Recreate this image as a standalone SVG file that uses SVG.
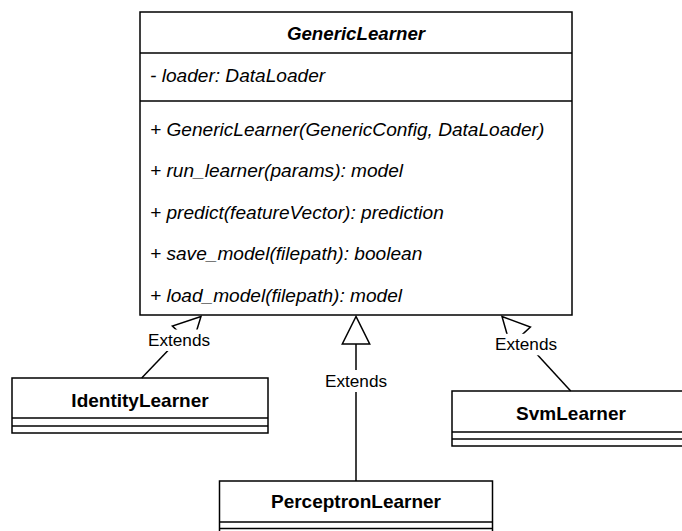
<svg xmlns="http://www.w3.org/2000/svg" width="682" height="531" viewBox="0 0 682 531">
  <style>
    .box { fill: #ffffff; stroke: #000000; stroke-width: 1.5; }
    .sep { stroke: #000000; stroke-width: 1.5; fill: none; }
    .title { font-family: "Liberation Sans", Arial, Helvetica, sans-serif; font-size: 19px; font-weight: bold; fill: #000000; text-anchor: middle; }
    .abstract { font-style: italic; font-size: 18.7px; }
    .member { font-family: "Liberation Sans", Arial, Helvetica, sans-serif; font-size: 19.1px; font-style: italic; fill: #000000; }
    .edge { stroke: #000000; stroke-width: 1.5; fill: none; }
    .head { stroke: #000000; stroke-width: 1.5; fill: #ffffff; stroke-linejoin: miter; }
    .lbl-bg { fill: #ffffff; stroke: none; }
    .lbl { font-family: "Liberation Sans", Arial, Helvetica, sans-serif; font-size: 17.2px; fill: #000000; text-anchor: middle; }
  </style>

  <!-- Abstract base class -->
  <g id="GenericLearner">
    <rect class="box" x="140" y="12" width="432" height="303"/>
    <line class="sep" x1="140" y1="53" x2="572" y2="53"/>
    <line class="sep" x1="140" y1="101" x2="572" y2="101"/>
    <text class="title abstract" x="356" y="39.5">GenericLearner</text>
    <text class="member" x="150" y="82">- loader: DataLoader</text>
    <text class="member" x="150" y="136">+ GenericLearner(GenericConfig, DataLoader)</text>
    <text class="member" x="150" y="177">+ run_learner(params): model</text>
    <text class="member" x="150" y="218.5">+ predict(featureVector): prediction</text>
    <text class="member" x="150" y="260">+ save_model(filepath): boolean</text>
    <text class="member" x="150" y="301.5">+ load_model(filepath): model</text>
  </g>

  <!-- Concrete subclasses -->
  <g id="IdentityLearner">
    <rect class="box" x="12" y="378" width="256" height="55"/>
    <line class="sep" x1="12" y1="418" x2="268" y2="418"/>
    <line class="sep" x1="12" y1="426" x2="268" y2="426"/>
    <text class="title" x="140" y="406.5">IdentityLearner</text>
  </g>

  <g id="SvmLearner">
    <rect class="box" x="452" y="391" width="238" height="55"/>
    <line class="sep" x1="452" y1="432" x2="690" y2="432"/>
    <line class="sep" x1="452" y1="439" x2="690" y2="439"/>
    <text class="title" x="571" y="420">SvmLearner</text>
  </g>

  <g id="PerceptronLearner">
    <rect class="box" x="219.5" y="481" width="273" height="55"/>
    <line class="sep" x1="219.5" y1="522" x2="492.5" y2="522"/>
    <line class="sep" x1="219.5" y1="528.5" x2="492.5" y2="528.5"/>
    <text class="title" x="356" y="508">PerceptronLearner</text>
  </g>

  <!-- Generalization connectors -->
  <g id="connectors">
    <!-- IdentityLearner extends GenericLearner -->
    <line class="edge" x1="141.7" y1="378" x2="182.3" y2="335.5"/>
    <polygon class="head" points="201,316.5 172.4,326 192.2,345"/>
    <rect class="lbl-bg" x="146" y="329.5" width="66" height="21.5"/>
    <text class="lbl" x="179" y="345.5">Extends</text>

    <!-- PerceptronLearner extends GenericLearner -->
    <line class="edge" x1="356" y1="481" x2="356" y2="344"/>
    <polygon class="head" points="356,316.5 342.3,344 369.7,344"/>
    <rect class="lbl-bg" x="323" y="370" width="66" height="22"/>
    <text class="lbl" x="356" y="386.5">Extends</text>

    <!-- SvmLearner extends GenericLearner -->
    <line class="edge" x1="570.7" y1="391" x2="520.4" y2="336.3"/>
    <polygon class="head" points="502,316.5 530.4,327 510.3,345.6"/>
    <rect class="lbl-bg" x="493" y="333.8" width="66" height="21.5"/>
    <text class="lbl" x="526" y="350">Extends</text>
  </g>
</svg>
